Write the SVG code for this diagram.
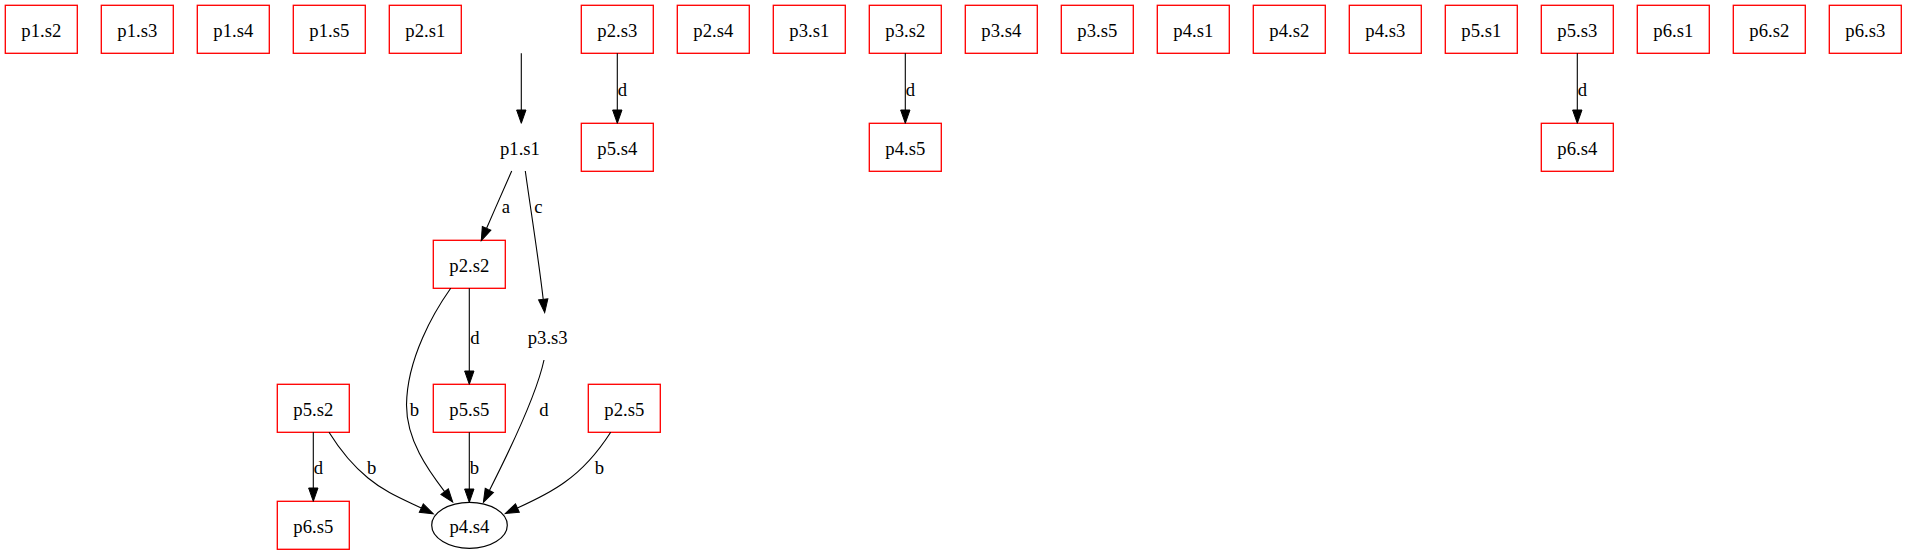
<svg xmlns="http://www.w3.org/2000/svg" width="1907" height="555" viewBox="0 0 1907 555">
<style>
text{font-family:"Liberation Serif","Times New Roman",serif;font-size:18.67px;fill:#000;text-anchor:middle}
.box{fill:none;stroke:#ff0000;stroke-width:1.33}
.ell{fill:none;stroke:#000;stroke-width:1.2}
.e{fill:none;stroke:#000;stroke-width:1.1}
</style>
<defs>
<marker id="ah" markerUnits="userSpaceOnUse" markerWidth="14" markerHeight="10" refX="0" refY="5" orient="auto" viewBox="0 0 14 10" overflow="visible">
<path d="M0,0.33 L13.33,5 L0,9.67 Z" fill="#000" stroke="#000" stroke-width="1"/>
</marker>
</defs>
<rect width="1907" height="555" fill="#fff"/>
<g id="p1.s2"><rect class="box" x="5.3" y="5.3" width="72" height="48"/><text x="41.3" y="36.9">p1.s2</text></g>
<g id="p1.s3"><rect class="box" x="101.3" y="5.3" width="72" height="48"/><text x="137.3" y="36.9">p1.s3</text></g>
<g id="p1.s4"><rect class="box" x="197.3" y="5.3" width="72" height="48"/><text x="233.3" y="36.9">p1.s4</text></g>
<g id="p1.s5"><rect class="box" x="293.3" y="5.3" width="72" height="48"/><text x="329.3" y="36.9">p1.s5</text></g>
<g id="p2.s1"><rect class="box" x="389.3" y="5.3" width="72" height="48"/><text x="425.3" y="36.9">p2.s1</text></g>
<g id="p2.s3"><rect class="box" x="581.3" y="5.3" width="72" height="48"/><text x="617.3" y="36.9">p2.s3</text></g>
<g id="p2.s4"><rect class="box" x="677.3" y="5.3" width="72" height="48"/><text x="713.3" y="36.9">p2.s4</text></g>
<g id="p3.s1"><rect class="box" x="773.3" y="5.3" width="72" height="48"/><text x="809.3" y="36.9">p3.s1</text></g>
<g id="p3.s2"><rect class="box" x="869.3" y="5.3" width="72" height="48"/><text x="905.3" y="36.9">p3.s2</text></g>
<g id="p3.s4"><rect class="box" x="965.3" y="5.3" width="72" height="48"/><text x="1001.3" y="36.9">p3.s4</text></g>
<g id="p3.s5"><rect class="box" x="1061.3" y="5.3" width="72" height="48"/><text x="1097.3" y="36.9">p3.s5</text></g>
<g id="p4.s1"><rect class="box" x="1157.3" y="5.3" width="72" height="48"/><text x="1193.3" y="36.9">p4.s1</text></g>
<g id="p4.s2"><rect class="box" x="1253.3" y="5.3" width="72" height="48"/><text x="1289.3" y="36.9">p4.s2</text></g>
<g id="p4.s3"><rect class="box" x="1349.3" y="5.3" width="72" height="48"/><text x="1385.3" y="36.9">p4.s3</text></g>
<g id="p5.s1"><rect class="box" x="1445.3" y="5.3" width="72" height="48"/><text x="1481.3" y="36.9">p5.s1</text></g>
<g id="p5.s3"><rect class="box" x="1541.3" y="5.3" width="72" height="48"/><text x="1577.3" y="36.9">p5.s3</text></g>
<g id="p6.s1"><rect class="box" x="1637.3" y="5.3" width="72" height="48"/><text x="1673.3" y="36.9">p6.s1</text></g>
<g id="p6.s2"><rect class="box" x="1733.3" y="5.3" width="72" height="48"/><text x="1769.3" y="36.9">p6.s2</text></g>
<g id="p6.s3"><rect class="box" x="1829.3" y="5.3" width="72" height="48"/><text x="1865.3" y="36.9">p6.s3</text></g>
<g id="p1.s1"><text x="520" y="154.9">p1.s1</text></g>
<g id="p5.s4"><rect class="box" x="581.3" y="123.3" width="72" height="48"/><text x="617.3" y="154.9">p5.s4</text></g>
<g id="p4.s5"><rect class="box" x="869.3" y="123.3" width="72" height="48"/><text x="905.3" y="154.9">p4.s5</text></g>
<g id="p6.s4"><rect class="box" x="1541.3" y="123.3" width="72" height="48"/><text x="1577.3" y="154.9">p6.s4</text></g>
<g id="p2.s2"><rect class="box" x="433.3" y="240.3" width="72" height="48"/><text x="469.3" y="271.9">p2.s2</text></g>
<g id="p3.s3"><text x="547.7" y="343.9">p3.s3</text></g>
<g id="p5.s2"><rect class="box" x="277.3" y="384.3" width="72" height="48"/><text x="313.3" y="415.9">p5.s2</text></g>
<g id="p5.s5"><rect class="box" x="433.3" y="384.3" width="72" height="48"/><text x="469.3" y="415.9">p5.s5</text></g>
<g id="p2.s5"><rect class="box" x="588.3" y="384.3" width="72" height="48"/><text x="624.3" y="415.9">p2.s5</text></g>
<g id="p6.s5"><rect class="box" x="277.3" y="501.3" width="72" height="48"/><text x="313.3" y="532.9">p6.s5</text></g>
<g id="p4.s4"><ellipse class="ell" cx="469.5" cy="525.3" rx="37.8" ry="23"/><text x="469.5" y="532.9">p4.s4</text></g>
<g id="connectors">
<path class="e" marker-end="url(#ah)" d="M521.3,53.3 L521.3,110"/>
<path class="e" marker-end="url(#ah)" d="M617.3,53.3 L617.3,110"/>
<text x="622.3" y="95.9">d</text>
<path class="e" marker-end="url(#ah)" d="M905.3,53.3 L905.3,110"/>
<text x="910.3" y="95.9">d</text>
<path class="e" marker-end="url(#ah)" d="M1577.3,53.3 L1577.3,110"/>
<text x="1582.3" y="95.9">d</text>
<path class="e" marker-end="url(#ah)" d="M511.7,171 C505,186 495,209 486.6,228.3"/>
<text x="506" y="212.7">a</text>
<path class="e" marker-end="url(#ah)" d="M525.3,171 C530,205 539,262 543.2,299.3"/>
<text x="538.3" y="212.7">c</text>
<path class="e" marker-end="url(#ah)" d="M469.3,288.3 L469.3,371"/>
<text x="474.8" y="343.5">d</text>
<path class="e" marker-end="url(#ah)" d="M450.7,288.3 C434,312 407,358 406.5,405 C406.5,440 428,470 444.6,491.6"/>
<text x="414.3" y="415.7">b</text>
<path class="e" marker-end="url(#ah)" d="M544,360 C538,388 517,436 489.4,490.4"/>
<text x="544" y="415.7">d</text>
<path class="e" marker-end="url(#ah)" d="M469.3,432.3 L469.3,489"/>
<text x="474.5" y="474">b</text>
<path class="e" marker-end="url(#ah)" d="M329,432.3 C340,450 352,465 368,478 C385,492 400,498 421.3,508.1"/>
<text x="371.7" y="474">b</text>
<path class="e" marker-end="url(#ah)" d="M610.7,432.3 C598,452 585,468 565,482 C550,493 535,500 517.4,508"/>
<text x="599.3" y="474">b</text>
<path class="e" marker-end="url(#ah)" d="M313.3,432.3 L313.3,488"/>
<text x="318.3" y="474">d</text>
</g>
</svg>
